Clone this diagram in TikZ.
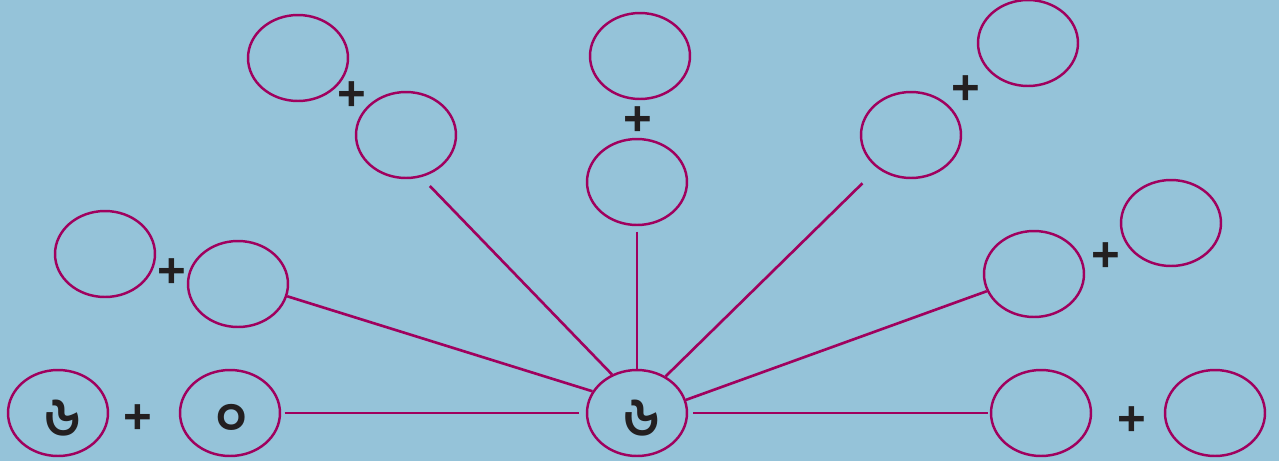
\documentclass[tikz,border=0pt]{standalone}
\usepackage{fontspec}
\setmainfont{Liberation Sans}
\newfontfamily\bnfont[Script=Bengali]{Hind Siliguri}
\usetikzlibrary{shapes.geometric, positioning}
\definecolor{skyback}{HTML}{95C3D9}
\definecolor{berry}{HTML}{A0005E}
\definecolor{inkdark}{HTML}{231F20}
\tikzstyle{bubble} = [draw=berry, ellipse, line width=1.4pt, minimum width=2cm, minimum height=1.72cm, inner sep=0pt]
\tikzstyle{plus} = [text=inkdark, font=\bfseries\fontsize{28}{28}\selectfont, inner sep=0pt]
\tikzstyle{digit} = [text=inkdark, font=\bnfont\bfseries\fontsize{31}{31}\selectfont, inner sep=0pt]
\tikzstyle{link} = [draw=berry, line width=1.5pt]

\begin{document}
\begin{tikzpicture}[x=0.02cm, y=-0.02cm]
    \fill[skyback] (0,0) rectangle (1279,461);
    \useasboundingbox (0,0) rectangle (1279,461);
    % centre
    \node (c) [bubble] at (637,413) {};
    \node (cd) [digit] at (642,418) {৬};
    % bottom left
    \node (bl1) [bubble] at (58,413) {};
    \node (bl1d) [digit] at (63,418) {৬};
    \node (bl2) [bubble] at (230,413) {};
    \node (bl2d) [digit] at (232,420) {০};
    \node (blp) [plus] at (138,419) {+};
    % bottom right
    \node (br1) [bubble] at (1041,413) {};
    \node (br2) [bubble] at (1215,413) {};
    \node (brp) [plus] at (1132,421) {+};
    % left middle
    \node (lm1) [bubble] at (105,254) {};
    \node (lm2) [bubble] at (238,284) {};
    \node (lmp) [plus] at (172,273) {+};
    % upper left
    \node (ul1) [bubble] at (298,58) {};
    \node (ul2) [bubble] at (406,135) {};
    \node (ulp) [plus] at (352,96) {+};
    % top
    \node (tc1) [bubble] at (640,56) {};
    \node (tc2) [bubble] at (637,182) {};
    \node (tcp) [plus] at (638,121) {+};
    % upper right
    \node (ur1) [bubble] at (911,135) {};
    \node (ur2) [bubble] at (1028,43) {};
    \node (urp) [plus] at (966,90) {+};
    % right middle
    \node (rm1) [bubble] at (1034,274) {};
    \node (rm2) [bubble] at (1171,223) {};
    \node (rmp) [plus] at (1106,257) {+};
    % spokes
    \draw [link, shorten <=2pt, shorten >=4pt] (bl2.east) -- (c.west);
    \draw [link, shorten <=3pt, shorten >=1pt] (c.east) -- (br1.west);
    \draw [link] (lm2.-14) -- (c.154);
    \draw [link, shorten <=7pt] (ul2.-70) -- (c.123);
    \draw [link, shorten <=3pt] (tc2.south) -- (c.north);
    \draw [link, shorten <=12pt] (ur1.-135) -- (c.52);
    \draw [link] (rm1.200) -- (c.15);
\end{tikzpicture}
\end{document}
